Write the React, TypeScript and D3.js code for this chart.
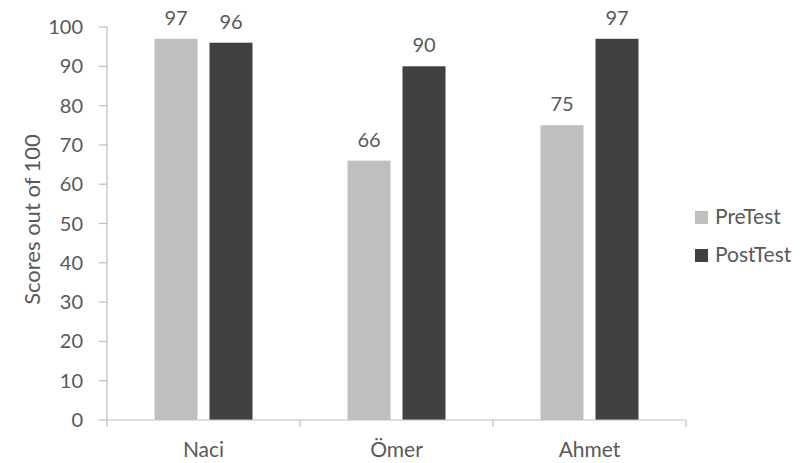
import React from "react";
import * as d3 from "d3";

const categories = ["Naci", "Ömer", "Ahmet"];
const seriesNames = ["PreTest", "PostTest"];
const preTest = [97, 66, 75];
const postTest = [96, 90, 97];
const yTicks = [0, 10, 20, 30, 40, 50, 60, 70, 80, 90, 100];
const colors = ["#bfbfbf", "#404040"];

const FONT = "Lato, 'Open Sans', sans-serif";
const TEXT = "#595959";
const AXIS = "#bfbfbf";

export default function App() {
  const W = 800, H = 463;
  const left = 107, right = 686, top = 27, bottom = 420;
  const x = d3.scaleBand<string>().domain(categories).range([left, right]).padding(0);
  const y = d3.scaleLinear().domain([0, 100]).range([bottom, top]);
  const bw = x.bandwidth();
  const groupW = 98;
  const xs = d3
    .scaleBand<string>()
    .domain(seriesNames)
    .range([(bw - groupW) / 2, (bw + groupW) / 2])
    .paddingInner(0.218)
    .paddingOuter(0);
  const series = [preTest, postTest];

  const boundaries = [...categories.map((c) => x(c)!), right];

  return (
    <svg
      width={W}
      height={H}
      style={{ position: "absolute", left: 0, top: 0, background: "#fff" }}
      fontFamily={FONT}
    >
      {/* bars */}
      {categories.map((c, i) =>
        series.map((s, j) => (
          <rect
            key={c + j}
            x={x(c)! + xs(seriesNames[j])!}
            y={y(s[i])}
            width={xs.bandwidth()}
            height={y(0) - y(s[i])}
            fill={colors[j]}
          />
        ))
      )}
      {/* data labels */}
      {categories.map((c, i) =>
        series.map((s, j) => (
          <text
            key={"l" + c + j}
            x={x(c)! + xs(seriesNames[j])! + xs.bandwidth() / 2}
            y={y(s[i]) - 14}
            textAnchor="middle"
            fontSize={20}
            fill={TEXT}
          >
            {s[i]}
          </text>
        ))
      )}
      {/* y axis */}
      <line x1={left} x2={left} y1={top} y2={bottom} stroke={AXIS} strokeWidth={1.2} />
      {yTicks.map((t) => (
        <g key={"y" + t}>
          <line x1={left - 8} x2={left} y1={y(t)} y2={y(t)} stroke={AXIS} strokeWidth={1.2} />
          <text x={83} y={y(t)} dy="0.35em" textAnchor="end" fontSize={20} fill={TEXT}>
            {t}
          </text>
        </g>
      ))}
      {/* x axis */}
      <line x1={left} x2={right} y1={bottom} y2={bottom} stroke={AXIS} strokeWidth={1.2} />
      {boundaries.map((b, i) => (
        <line key={"xt" + i} x1={b} x2={b} y1={bottom} y2={bottom + 7} stroke={AXIS} strokeWidth={1.2} />
      ))}
      {categories.map((c) => (
        <text key={"x" + c} x={x(c)! + bw / 2} y={457} textAnchor="middle" fontSize={21} fill={TEXT}>
          {c}
        </text>
      ))}
      {/* y title */}
      <text
        transform={`translate(40, ${(127 + 312) / 2}) rotate(-90)`}
        textAnchor="middle"
        fontSize={22}
        fill={TEXT}
      >
        Scores out of 100
      </text>
      {/* legend */}
      {seriesNames.map((n, j) => (
        <g key={"lg" + n}>
          <rect x={695} y={211 + j * 38} width={13} height={13} fill={colors[j]} />
          <text x={715} y={224 + j * 38} fontSize={21} fill={TEXT}>
            {n}
          </text>
        </g>
      ))}
    </svg>
  );
}
